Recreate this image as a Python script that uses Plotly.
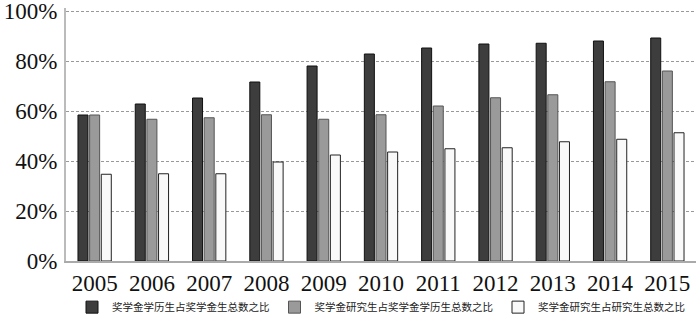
import plotly.graph_objects as go

years = ["2005", "2006", "2007", "2008", "2009", "2010", "2011", "2012", "2013", "2014", "2015"]
names = ["奖学金学历生占奖学金生总数之比", "奖学金研究生占奖学金学历生总数之比", "奖学金研究生占研究生总数之比"]
s1 = [58.4, 62.8, 65.2, 71.6, 78.0, 82.8, 85.2, 86.8, 87.1, 88.0, 89.2]
s2 = [58.4, 56.7, 57.3, 58.5, 56.7, 58.5, 62.0, 65.3, 66.5, 71.7, 76.0]
s3 = [34.7, 34.9, 34.9, 39.6, 42.4, 43.6, 44.9, 45.3, 47.7, 48.7, 51.3]
ytick_vals = [0, 20, 40, 60, 80, 100]
ytick_text = ["0%", "20%", "40%", "60%", "80%", "100%"]

fills = ["#3d3d3d", "#9a9a9a", "#f9f9f9"]
lines = ["#111111", "#555555", "#222222"]

serif = "Liberation Serif, 'Times New Roman', serif"

fig = go.Figure()
for n, v, f, l in zip(names, [s1, s2, s3], fills, lines):
    fig.add_trace(go.Bar(x=years, y=v, name=n, marker=dict(color=f, line=dict(color=l, width=1))))

fig.update_layout(
    width=700, height=315,
    margin=dict(l=66, r=4, t=8, b=54, autoexpand=False),
    paper_bgcolor="white", plot_bgcolor="white",
    barmode="group", bargap=0.39, bargroupgap=0.14,
    font=dict(family=serif, color="#111"),
    legend=dict(orientation="h", x=0.5, xanchor="center", y=-0.125, yanchor="top",
                bgcolor="rgba(0,0,0,0)",
                font=dict(family="Noto Sans CJK SC", size=10.5, color="#222"),
                itemwidth=30, tracegroupgap=0),
    xaxis=dict(showline=True, linecolor="#aaaaaa", linewidth=2, ticks="",
               tickfont=dict(size=23, family=serif), showgrid=False, automargin=False,
               ticklabelstandoff=0),
    yaxis=dict(range=[0, 101.2], tickvals=ytick_vals, ticktext=ytick_text, showline=True,
               linecolor="#bbbbbb", linewidth=2, automargin=False, ticklabeloverflow="allow",
               showgrid=True, gridcolor="#999999", griddash="3px,2px", gridwidth=1, zeroline=False,
               tickfont=dict(size=23, family=serif), ticks="", ticklabelstandoff=2),
)
fig.write_html("out.html")
